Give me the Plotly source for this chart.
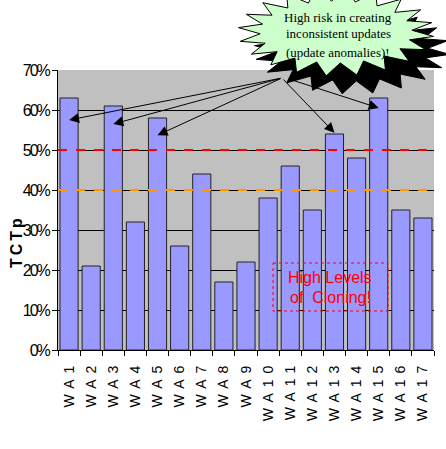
import math
import plotly.graph_objects as go

# Cloning percentage per web application
categories = ["WA1", "WA2", "WA3", "WA4", "WA5", "WA6", "WA7", "WA8", "WA9",
              "WA10", "WA11", "WA12", "WA13", "WA14", "WA15", "WA16", "WA17"]
tctp = [63, 21, 61, 32, 58, 26, 44, 17, 22, 38, 46, 35, 54, 48, 63, 35, 33]
y_ticks = [0, 10, 20, 30, 40, 50, 60, 70]
y_tick_labels = [f"{v}%" for v in y_ticks]
threshold_high = 50
threshold_mid = 40
flagged = ["WA1", "WA3", "WA5", "WA13", "WA15"]
arrow_tip_values = [57.5, 56.5, 53.7, 54.3, 60.5]

W, H = 446, 449
L, R, T, B = 58, 12, 70, 99
PW, PH = W - L - R, H - T - B
YMAX = 70


def px(x, y):
    """Pixel position -> paper coordinates."""
    return (x - L) / PW, (H - B - y) / PH


def spaced(text, gap):
    return f'<span style="letter-spacing:{gap}px">{text}</span>'


def star_path(cx, cy, rx_out, ry_out, rx_in, ry_in, n, rot=0.0):
    pts = []
    for k in range(2 * n):
        a = rot + math.pi * k / n
        if k % 2 == 0:
            rx, ry = rx_out, ry_out
        else:
            rx, ry = rx_in, ry_in
        pts.append(px(cx + rx * math.cos(a), cy + ry * math.sin(a)))
    return "M " + " L ".join(f"{x:.4f},{y:.4f}" for x, y in pts) + " Z"


fig = go.Figure()
fig.add_trace(go.Bar(
    x=categories, y=tctp,
    marker=dict(color="#9999FF", line=dict(color="#222222", width=1)),
    width=0.82,
))

shapes = []
# threshold lines
shapes.append(dict(type="line", xref="paper", yref="y", x0=0, x1=1,
                   y0=threshold_high, y1=threshold_high,
                   line=dict(color="#FF0000", width=2, dash="dash")))
shapes.append(dict(type="line", xref="paper", yref="y", x0=0, x1=1,
                   y0=threshold_mid, y1=threshold_mid,
                   line=dict(color="#FF9900", width=2, dash="dash")))

# callout box around the cloning note
bx0, by0 = px(273, 263)
bx1, by1 = px(388, 311)
shapes.append(dict(type="rect", xref="paper", yref="paper", x0=bx0, y0=by0,
                   x1=bx1, y1=by1, line=dict(color="#FF0000", width=1, dash="dot")))

# starburst with shadow
shapes.append(dict(type="path", xref="paper", yref="paper",
                   path=star_path(352, 50, 98, 44, 76, 31, 20, 0.1),
                   fillcolor="#000000", line=dict(color="#000000", width=1),
                   layer="above"))
shapes.append(dict(type="path", xref="paper", yref="paper",
                   path=star_path(336, 32, 98, 44, 76, 31, 20, 0.1),
                   fillcolor="#CCFFCC", line=dict(color="#000000", width=1),
                   layer="above"))

annotations = []
# arrows from the starburst to the flagged bars
tails = {"WA1": (282, 78), "WA3": (282, 78), "WA5": (282, 78),
         "WA13": (282, 78), "WA15": (292, 80)}
n = len(categories)
for cat, tip in zip(flagged, arrow_tip_values):
    i = categories.index(cat)
    hx = L + (i + 0.5) * PW / n
    hy = T + (YMAX - tip) * PH / YMAX
    tx, ty = tails[cat]
    annotations.append(dict(x=cat, y=tip, xref="x", yref="y", text="",
                            showarrow=True, arrowhead=2, arrowsize=2,
                            arrowwidth=1, arrowcolor="#000000",
                            ax=tx - hx, ay=ty - hy))

serif = "Liberation Serif, Times New Roman, serif"
for txt, yy in [("High risk in creating", 17), ("inconsistent updates", 33),
                ("(update anomalies)!", 52)]:
    xp, yp = px(338, yy)
    annotations.append(dict(x=xp, y=yp, xref="paper", yref="paper", text=txt,
                            showarrow=False, xanchor="center", yanchor="middle",
                            font=dict(family=serif, size=13, color="#000000")))

for txt, yy in [("High Levels", 277), ("of  Cloning!", 297)]:
    xp, yp = px(330, yy)
    annotations.append(dict(x=xp, y=yp, xref="paper", yref="paper", text=txt,
                            showarrow=False, xanchor="center", yanchor="middle",
                            font=dict(family="Liberation Sans, Arial, sans-serif",
                                      size=16, color="#FF0000")))

# y-axis title
tx_, ty_ = px(16, 242)
annotations.append(dict(x=tx_, y=ty_, xref="paper", yref="paper",
                        text="<b>" + spaced("TCTp", 3) + "</b>",
                        showarrow=False, textangle=-90, xanchor="center",
                        yanchor="middle",
                        font=dict(family="Liberation Sans, Arial, sans-serif",
                                  size=16, color="#000000")))

fig.update_layout(
    width=W, height=H,
    margin=dict(l=L, r=R, t=T, b=B),
    paper_bgcolor="#FFFFFF",
    plot_bgcolor="#C0C0C0",
    showlegend=False,
    shapes=shapes,
    annotations=annotations,
    bargap=0.18,
)
fig.update_yaxes(
    range=[0, YMAX], tickvals=y_ticks,
    ticktext=[spaced(t, -2) for t in y_tick_labels],
    showgrid=True, gridcolor="#000000", gridwidth=1,
    ticks="outside", ticklen=5, tickcolor="#000000",
    showline=True, linecolor="#000000", linewidth=1,
    zeroline=False,
    tickfont=dict(family="Liberation Sans, Arial, sans-serif",
                  size=16, color="#000000"),
)
fig.update_xaxes(
    tickangle=-90, tickson="boundaries", ticks="outside", ticklen=5,
    tickcolor="#000000", showline=True, linecolor="#000000", linewidth=1,
    showgrid=False,
    tickvals=categories,
    ticktext=[spaced(c, 6) for c in categories],
    ticklabelstandoff=3,
    tickfont=dict(family="Liberation Sans, Arial, sans-serif", size=14,
                  color="#000000"),
)

fig.write_html("out.html")
